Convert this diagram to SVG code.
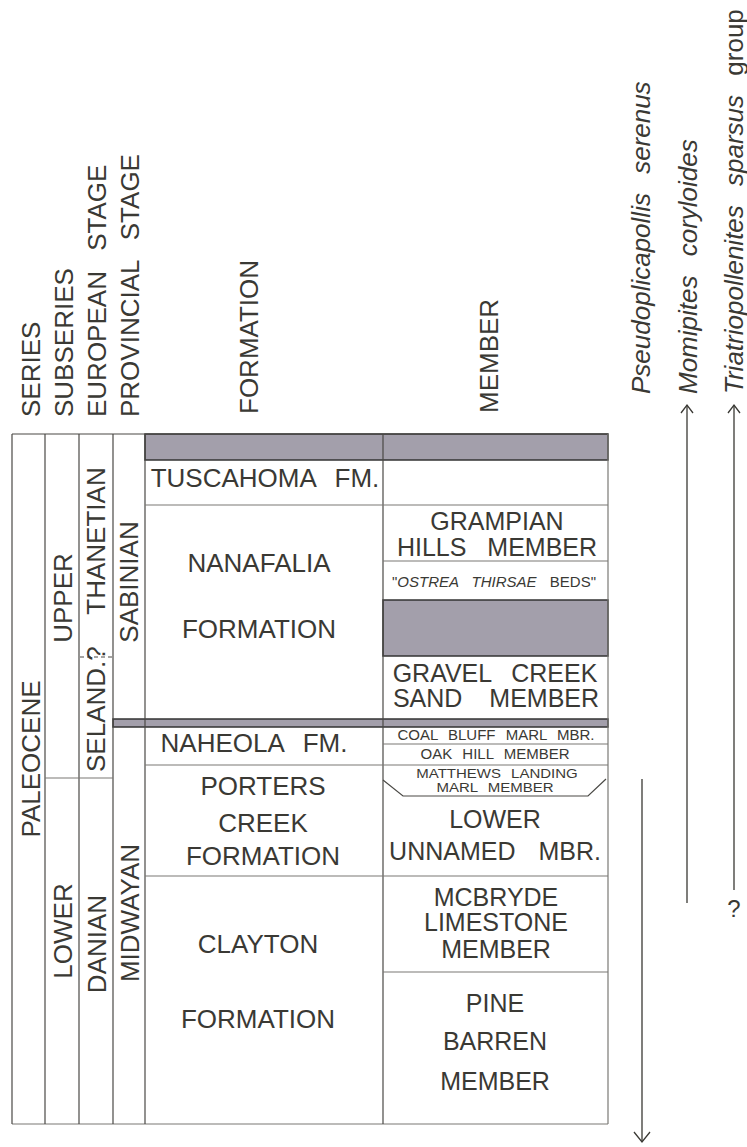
<svg xmlns="http://www.w3.org/2000/svg" width="747" height="1147" viewBox="0 0 747 1147">
<style>
text{font-family:"Liberation Sans",Arial,sans-serif;fill:#3a3934}
.h{font-size:26px;word-spacing:13px}
.f{font-size:26px;text-anchor:middle;word-spacing:12px}
.m{font-size:25px;text-anchor:middle;word-spacing:12px}
.s{font-size:15px;text-anchor:middle;word-spacing:6px}
.sp{font-size:26px;font-style:italic;word-spacing:12px}
.ln{stroke:#4a4945;stroke-width:1.2;fill:none}
.lg{stroke:#7a7975;stroke-width:1.2;fill:none}
.gr{fill:#a39fab;stroke:#333;stroke-width:1.5}
.ar{stroke:#3a3934;stroke-width:1.3;fill:none}
</style>
<g id="headers">
<text class="h" transform="translate(40,417) rotate(-90)">SERIES</text>
<text class="h" transform="translate(73,417) rotate(-90)">SUBSERIES</text>
<text class="h" transform="translate(106,417) rotate(-90)">EUROPEAN STAGE</text>
<text class="h" transform="translate(139,417) rotate(-90)">PROVINCIAL STAGE</text>
<text class="h" transform="translate(258,414) rotate(-90)">FORMATION</text>
<text class="h" transform="translate(498,413) rotate(-90)">MEMBER</text>
</g>
<g id="species">
<text class="sp" transform="translate(650,394) rotate(-90)">Pseudoplicapollis serenus</text>
<text class="sp" transform="translate(697,394) rotate(-90)">Momipites coryloides</text>
<text class="sp" transform="translate(743,394) rotate(-90)">Triatriopollenites sparsus <tspan font-style="normal">group</tspan></text>
</g>
<g id="table">
<rect class="gr" x="145" y="434" width="463" height="26"/>
<rect class="gr" x="383" y="600" width="225" height="56"/>
<rect class="gr" x="113" y="719" width="495" height="8"/>
<line class="ln" x1="12" y1="434" x2="608" y2="434"/>
<line class="lg" x1="12" y1="1124" x2="608" y2="1124"/>
<line class="ln" x1="12" y1="434" x2="12" y2="1124"/>
<line class="ln" x1="45" y1="434" x2="45" y2="1124"/>
<line class="ln" x1="79" y1="434" x2="79" y2="1124"/>
<line class="ln" x1="113" y1="434" x2="113" y2="1124"/>
<line class="ln" x1="145" y1="434" x2="145" y2="1124"/>
<line class="ln" x1="383" y1="434" x2="383" y2="1124"/>
<line class="lg" x1="608" y1="434" x2="608" y2="1124"/>
<line class="lg" x1="45" y1="778" x2="113" y2="778"/>
<line class="ln" x1="80" y1="657" x2="112" y2="657" stroke-dasharray="4 3"/>
<line class="lg" x1="145" y1="505" x2="608" y2="505"/>
<line class="lg" x1="383" y1="561" x2="608" y2="561"/>
<line class="lg" x1="383" y1="744" x2="608" y2="744"/>
<line class="lg" x1="145" y1="765" x2="608" y2="765"/>
<line class="lg" x1="145" y1="876" x2="608" y2="876"/>
<line class="lg" x1="383" y1="972" x2="608" y2="972"/>
<polyline class="ln" points="383,780 403,796 588,796 606,779"/>
</g>
<g id="col-labels">
<text class="f" transform="translate(40,759) rotate(-90)">PALEOCENE</text>
<text class="f" transform="translate(72,598) rotate(-90)">UPPER</text>
<text class="f" transform="translate(72,931) rotate(-90)">LOWER</text>
<text class="f" transform="translate(105,541) rotate(-90)">THANETIAN</text>
<text class="h" transform="translate(105,772) rotate(-90)">SELAND.?</text>
<text class="f" transform="translate(106,944) rotate(-90)">DANIAN</text>
<text class="f" transform="translate(138,582) rotate(-90)">SABINIAN</text>
<text class="f" transform="translate(139,913) rotate(-90)">MIDWAYAN</text>
</g>
<g id="formations">
<text class="f" x="265" y="487">TUSCAHOMA FM.</text>
<text class="f" x="259" y="572">NANAFALIA</text>
<text class="f" x="259" y="638">FORMATION</text>
<text class="f" x="254" y="752">NAHEOLA FM.</text>
<text class="f" x="263" y="795">PORTERS</text>
<text class="f" x="263" y="832">CREEK</text>
<text class="f" x="263" y="865">FORMATION</text>
<text class="f" x="258" y="953">CLAYTON</text>
<text class="f" x="258" y="1028">FORMATION</text>
</g>
<g id="members">
<text class="m" x="497" y="530" font-size="22">GRAMPIAN</text>
<text class="m" x="497" y="556" font-size="22" style="word-spacing:14px">HILLS MEMBER</text>
<text class="s" x="494" y="587" style="word-spacing:9px">"<tspan font-style="italic">OSTREA THIRSAE</tspan> BEDS"</text>
<text class="m" x="495" y="682" style="word-spacing:13px">GRAVEL CREEK</text>
<text class="m" x="496" y="707" style="word-spacing:20px">SAND MEMBER</text>
<text class="s" x="496" y="740">COAL BLUFF MARL MBR.</text>
<text class="s" x="495" y="759">OAK HILL MEMBER</text>
<text class="s" transform="translate(497,778) scale(1,0.8)">MATTHEWS LANDING</text>
<text class="s" transform="translate(495,792) scale(1,0.8)">MARL MEMBER</text>
<text class="m" x="495" y="828">LOWER</text>
<text class="m" x="495" y="860" style="word-spacing:16px">UNNAMED MBR.</text>
<text class="m" x="496" y="906" font-size="24">MCBRYDE</text>
<text class="m" x="496" y="931" font-size="24">LIMESTONE</text>
<text class="m" x="496" y="958" font-size="24">MEMBER</text>
<text class="m" x="495" y="1012">PINE</text>
<text class="m" x="495" y="1050">BARREN</text>
<text class="m" x="495" y="1090">MEMBER</text>
</g>
<g id="connectors">
<line class="ar" x1="642" y1="779" x2="642" y2="1142"/>
<polyline class="ar" points="634,1132 642,1142 650,1132"/>
<line class="ar" x1="687" y1="405" x2="687" y2="903"/>
<polyline class="ar" points="681,413 687,405 693,413"/>
<line class="ar" x1="734" y1="405" x2="734" y2="890"/>
<polyline class="ar" points="728,413 734,405 740,413"/>
<text x="734" y="917" font-size="24" text-anchor="middle">?</text>
</g>
</svg>
